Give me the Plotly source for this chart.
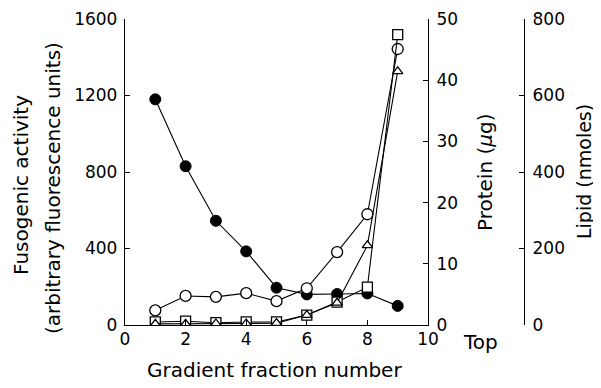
import plotly.graph_objects as go

fraction = [1, 2, 3, 4, 5, 6, 7, 8, 9]
fusogenic = [1180, 830, 545, 385, 195, 160, 162, 165, 100]      # arbitrary fluorescence units
protein = [2.4, 4.75, 4.6, 5.2, 3.9, 6.0, 11.9, 18.1, 45.1]     # µg (open circles)
lipid_sq = [8, 10, 6, 8, 8, 26, 60, 99, 759]                     # nmoles (squares)
lipid_tri = [3, 3, 4, 4, 5, 26, 58, 208, 663]                    # nmoles (triangles)

x_ticks = [0, 2, 4, 6, 8, 10]
left_ticks = [0, 400, 800, 1200, 1600]
protein_ticks = [0, 10, 20, 30, 40, 50]
lipid_ticks = [0, 200, 400, 600, 800]

FONT = "DejaVu Sans"
OFF = 8                      # page body margin offset in the browser
W, H = 601 - OFF, 388 - OFF  # figure size so it fits the window
# target positions in window pixels
x0, x1 = 125, 428
ytop, ybot = 19, 325


def fx(px):
    return (px - OFF) / W


def fy(py):
    return 1 - (py - OFF) / H


fig = go.Figure()
line = dict(color="black", width=1.1)

fig.add_trace(go.Scatter(x=fraction, y=protein, yaxis="y2", mode="lines+markers",
                         line=line, marker=dict(symbol="circle", size=11, color="white",
                                                line=dict(color="black", width=1.3))))
fig.add_trace(go.Scatter(x=fraction, y=lipid_sq, yaxis="y3", mode="lines+markers",
                         line=line, marker=dict(symbol="square", size=10, color="white",
                                                line=dict(color="black", width=1.3))))
fig.add_trace(go.Scatter(x=fraction, y=lipid_tri, yaxis="y3", mode="lines+markers",
                         line=line, marker=dict(symbol="triangle-up", size=9, color="white",
                                                line=dict(color="black", width=1.3))))
fig.add_trace(go.Scatter(x=fraction, y=fusogenic, yaxis="y", mode="lines+markers",
                         line=line, marker=dict(symbol="circle", size=11, color="black",
                                                line=dict(color="black", width=1))))

xd = [fx(x0), fx(x1)]
yd = [fy(ybot), fy(ytop)]
tickfont = dict(family=FONT, size=17, color="black")
common = dict(showgrid=False, zeroline=False, showline=True, linecolor="black",
              linewidth=1.3, ticks="inside", ticklen=5, tickwidth=1.2,
              tickcolor="black", tickfont=tickfont, automargin=False)

fig.update_layout(
    width=W, height=H, margin=dict(l=0, r=0, t=0, b=0, autoexpand=False),
    paper_bgcolor="white", plot_bgcolor="white", showlegend=False,
    xaxis=dict(domain=xd, range=[0, 10], tickvals=x_ticks, anchor="y",
               ticklabelstandoff=-2, **common),
    yaxis=dict(domain=yd, range=[0, 1600], tickvals=left_ticks, anchor="x",
               ticklabelstandoff=3, **common),
    yaxis2=dict(range=[0, 50], tickvals=protein_ticks, overlaying="y", side="right",
                anchor="x", ticklabelstandoff=4, **common),
    yaxis3=dict(range=[0, 800], tickvals=lipid_ticks, overlaying="y", side="right",
                anchor="free", position=fx(524), ticklabelstandoff=4, **common),
)

tf = dict(family=FONT, size=20, color="black")
ann = [
    dict(text="Fusogenic activity", x=21, y=185, textangle=-90, size=20),
    dict(text="(arbitrary fluorescence units)", x=53, y=188, textangle=-90, size=20),
    dict(text="Protein (<i>µ</i>g)", x=485, y=172, textangle=-90, size=20),
    dict(text="Lipid (nmoles)", x=584, y=172, textangle=-90, size=19),
    dict(text="Top", x=480, y=342, textangle=0, size=20),
    dict(text="Gradient fraction number", x=274, y=370, textangle=0, size=20),
]
for a in ann:
    fig.add_annotation(text=a["text"], x=fx(a["x"]), y=fy(a["y"]), xref="paper",
                       yref="paper", showarrow=False, textangle=a["textangle"],
                       font=dict(family=FONT, size=a["size"], color="black"),
                       xanchor="center", yanchor="middle")

fig.write_html("out.html")
